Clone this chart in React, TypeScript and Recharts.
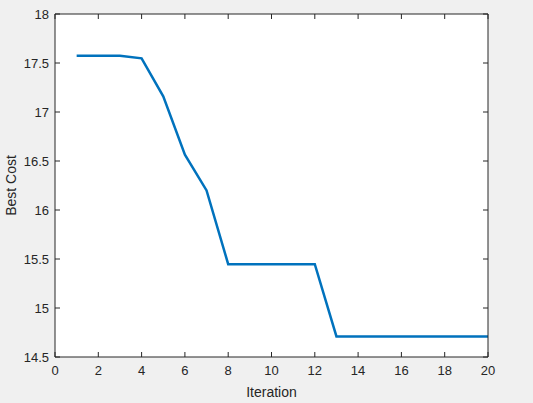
import React from "react";
import { LineChart, Line, XAxis, YAxis, CartesianGrid } from "recharts";

// values
const iterations = [1, 2, 3, 4, 5, 6, 7, 8, 9, 10, 11, 12, 13, 14, 15, 16, 17, 18, 19, 20];
const bestCost = [
    17.575, 17.575, 17.575, 17.548, 17.16, 16.565, 16.2, 15.447, 15.447, 15.447,
    15.447, 15.447, 14.71, 14.71, 14.71, 14.71, 14.71, 14.71, 14.71, 14.71,
];
const xTicks = [0, 2, 4, 6, 8, 10, 12, 14, 16, 18, 20];
const yTicks = [14.5, 15, 15.5, 16, 16.5, 17, 17.5, 18];

const AXIS = "#262626";
const FONT = "'Liberation Sans', Arial, Helvetica, sans-serif";

const data = iterations.map((it, i) => ({ iteration: it, cost: bestCost[i] }));
const blank = () => "";

export default function App() {
    return (
        <div style={{ position: "fixed", left: 0, top: 0, width: 533, height: 403, background: "#f0f0f0", fontFamily: FONT }}>
            <LineChart width={533} height={403} data={data} margin={{ top: 14, right: 45, bottom: 0, left: 0 }}>
                <CartesianGrid horizontal={false} vertical={false} fill="#ffffff" />

                {/* labelled axes */}
                <XAxis
                    type="number"
                    dataKey="iteration"
                    domain={[0, 20]}
                    ticks={xTicks}
                    allowDataOverflow
                    height={46}
                    stroke={AXIS}
                    tickLine={false}
                    tickSize={0}
                    tickMargin={9}
                    tick={{ fill: AXIS, fontSize: 13, fontFamily: FONT }}
                    label={{ value: "Iteration", position: "insideBottom", offset: 6, fill: AXIS, fontSize: 14, fontFamily: FONT }}
                />
                <YAxis
                    type="number"
                    domain={[14.5, 18]}
                    ticks={yTicks}
                    allowDataOverflow
                    width={55}
                    stroke={AXIS}
                    tickLine={false}
                    tickSize={0}
                    tickMargin={6}
                    tick={{ fill: AXIS, fontSize: 13, fontFamily: FONT }}
                    label={{
                        value: "Best Cost",
                        angle: -90,
                        position: "insideLeft",
                        offset: 11,
                        fill: AXIS,
                        fontSize: 14,
                        fontFamily: FONT,
                        style: { textAnchor: "middle" },
                    }}
                />

                {/* inward ticks + box, matlab style */}
                <XAxis xAxisId="bIn" type="number" dataKey="iteration" domain={[0, 20]} ticks={xTicks} allowDataOverflow
                    orientation="bottom" mirror tickFormatter={blank} tickSize={5} axisLine={false} stroke={AXIS} />
                <XAxis xAxisId="top" type="number" dataKey="iteration" domain={[0, 20]} ticks={xTicks} allowDataOverflow
                    orientation="top" mirror tickFormatter={blank} tickSize={5} stroke={AXIS} />
                <YAxis yAxisId="lIn" type="number" domain={[14.5, 18]} ticks={yTicks} allowDataOverflow
                    orientation="left" mirror tickFormatter={blank} tickSize={5} axisLine={false} stroke={AXIS} />
                <YAxis yAxisId="right" type="number" domain={[14.5, 18]} ticks={yTicks} allowDataOverflow
                    orientation="right" mirror tickFormatter={blank} tickSize={5} stroke={AXIS} />

                <Line
                    type="linear"
                    dataKey="cost"
                    stroke="#0072BD"
                    strokeWidth={2.5}
                    dot={false}
                    activeDot={false}
                    isAnimationActive={false}
                />
            </LineChart>
        </div>
    );
}
